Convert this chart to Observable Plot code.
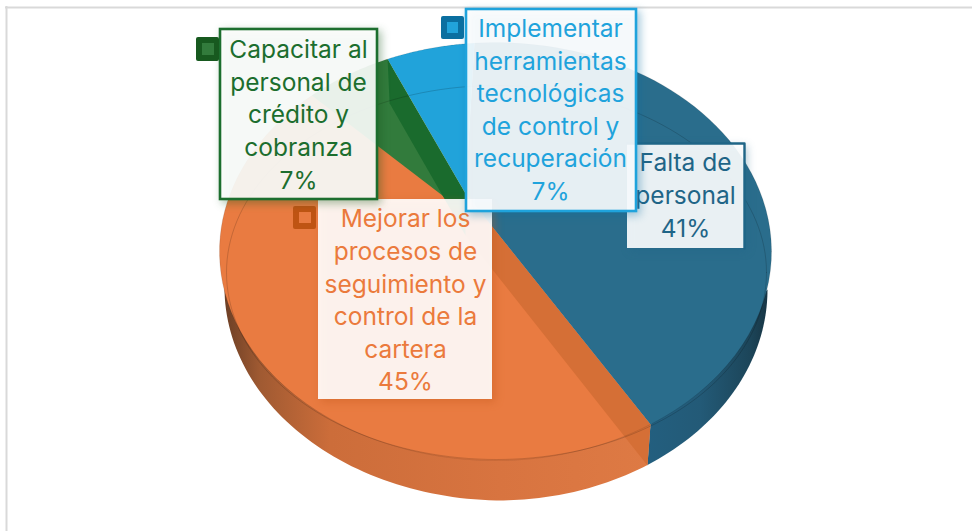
<!DOCTYPE html>
<html><head><meta charset="utf-8">
<style>html,body{margin:0;padding:0;background:#fff}svg{display:block}</style>
<script src="https://cdn.jsdelivr.net/npm/d3@7"></script>
<script src="https://cdn.jsdelivr.net/npm/@observablehq/plot@0.6"></script>
</head><body><div id="c"></div><script>
// Data
const labels = ["Mejorar los\nprocesos de\nseguimiento y\ncontrol de la\ncartera\n45%",
  "Capacitar al\npersonal de\ncrédito y\ncobranza\n7%",
  "Implementar\nherramientas\ntecnológicas\nde control y\nrecuperación\n7%",
  "Falta de\npersonal\n41%"];
const shares = [45, 7, 7, 41];
const faceColors = ["#E97B41", "#327B3C", "#21A3DA", "#2A6D8C"];
const textColors = ["#EB7A3C", "#1C6E2E", "#1FA3DC", "#1F6587"];
const keyColors  = ["#BF5413", "#17591F", "#0B6FA0", "#1F6587"];

// Layout of the perspective pie
const W = 972, H = 531, FS = 24.5, FONT = "Inter";
const rimE = {cx:495, cy:251, rx:276, ry:209};    // outer rim of the top
const innerE = {cx:496, cy:272, rx:270, ry:187};  // thin inner arc
const wallL = {cx:503, cy:287, rx:279, ry:213};   // lower silhouette, left
const wallR = {cx:497, cy:289, rx:270, ry:211};   // lower silhouette, right
const apex = [465, 193], apexLow = [465, 235], apexGreen = [472, 218], depth = 41;
const startAngle = 59.2;
const rad = Math.PI/180;
const ax = (apex[0]-rimE.cx)/rimE.rx, ay = (apex[1]-rimE.cy)/rimE.ry, a2 = ax*ax+ay*ay;
function rim(deg){ // circle angle -> perspective point on the rim
  const ux=Math.cos(deg*rad), uy=Math.sin(deg*rad), d=ax*ux+ay*uy, k=d/a2;
  const px=ax*k, py=ay*k, s=Math.sqrt(1-a2), den=1+d;
  return [rimE.cx+rimE.rx*(ax+px+s*(ux-px))/den, rimE.cy+rimE.ry*(ay+py+s*(uy-py))/den];
}
const ell=(e,t)=>[e.cx+e.rx*Math.cos(t*rad), e.cy+e.ry*Math.sin(t*rad)];
const steps=(n)=>d3.range(n+1).map(i=>i/n);
const total=d3.sum(shares);
let acc=startAngle;
const edges=shares.map(s=>{const b=acc; acc+=s/total*360; return [b,acc];});
const X=d=>d[0], Y=d=>d[1];
const poly=(pts,fill,opt={})=>Plot.line(pts.concat([pts[0]]),{x:X,y:Y,fill,stroke:"none",curve:"linear",...opt});
const wedge=(e,p=apex)=>[p,...steps(60).map(t=>rim(e[0]+(e[1]-e[0])*t))];

const R = rim(edges[0][0]);                // blue / orange rim point
const Rlow = [R[0]-3, R[1]+depth];
const tR = Math.acos((Rlow[0]-wallR.cx)/wallR.rx)/rad;
const tJoin = Math.acos((wallL.cx-wallR.cx)/wallR.rx)/rad;
const G = rim(edges[2][0]);                // green / light blue rim point
const wallOrange=[...steps(60).map(t=>ell(wallL,180-90*t)),
                  ...steps(30).map(t=>ell(wallR,tJoin+(tR-tJoin)*t)), R, apex];
const wallBlue=[...steps(40).map(t=>ell(wallR,tR-tR*t)), R];
const ring=e=>steps(180).map(t=>ell(e,360*t));

// Label boxes, drawn in this order
const boxes=[
 {i:3,x1:627,x2:744,y1:143,y2:248,fo:.9,tx:685,ty:193},
 {i:0,x1:318,x2:492,y1:199,y2:399,fo:.91,tx:405,ty:298},
 {i:1,x1:220,x2:377,y1:29,y2:199,stroke:true,fo:.9,tx:298,ty:112.5},
 {i:2,x1:466,x2:636,y1:9,y2:211,stroke:true,fo:.89,tx:550,ty:107.5}
];
const keys=[[293,316,206,229,299,311,212,223],[196,219,37,61,202,214,43,55],[441,464,16,39,447,458,22,33]];
const boxMarks=boxes.flatMap(b=>{
  const k=b.i<3?keys[b.i]:null;
  const m=[Plot.rect([b],{x1:"x1",x2:"x2",y1:"y1",y2:"y2",fill:"#fff",fillOpacity:b.fo,
      stroke:b.stroke?textColors[b.i]:"none",strokeWidth:2.6,
      imageFilter:`drop-shadow(3px 3px 4px ${keyColors[b.i]}66)`})];
  if(b.i===3) m.push(Plot.line([[b.x1,b.y1],[b.x2,b.y1],[b.x2,b.y2]],{x:X,y:Y,stroke:textColors[3],strokeWidth:2.4}));
  if(k) m.push(
    Plot.rect([k],{x1:d=>d[0],x2:d=>d[1],y1:d=>d[2],y2:d=>d[3],fill:keyColors[b.i],rx:2}),
    Plot.rect([k],{x1:d=>d[4],x2:d=>d[5],y1:d=>d[6],y2:d=>d[7],fill:faceColors[b.i]}));
  m.push(Plot.text([labels[b.i]],{x:()=>b.tx,y:()=>b.ty,text:d=>d,fill:textColors[b.i],
    fontSize:FS,lineHeight:32.6/FS,textAnchor:"middle",lineAnchor:"middle"}));
  return m;
});

const chart=Plot.plot({
  width:W,height:H,margin:0,
  x:{domain:[0,W],range:[0,W],axis:null},
  y:{domain:[0,H],range:[0,H],axis:null},
  style:{background:"#fff",fontFamily:FONT},
  marks:[
    Plot.ruleY([7],{stroke:"#D9D9D9",strokeWidth:2,x1:5,x2:W}),
    Plot.ruleX([6],{stroke:"#D9D9D9",strokeWidth:2,y1:6,y2:H}),
    poly(wallOrange,"url(#wallO)"),
    poly(wallBlue,"url(#wallB)"),
    poly(wedge(edges[0]),faceColors[0]),
    poly(wedge(edges[3]),faceColors[3]),
    poly(wedge(edges[2]),faceColors[2]),
    poly(wedge(edges[1],apexGreen),faceColors[1]),
    // cut faces seen through the slices
    poly([apex,R,Rlow,apexLow],"#D56F36"),
    poly([apex,G,[G[0]+2,G[1]+depth+3],apexLow],"#1A6B2D"),
    Plot.line(ring(innerE),{x:X,y:Y,stroke:"#000",strokeOpacity:.16,strokeWidth:1}),
    Plot.line(ring(rimE),{x:X,y:Y,stroke:"#000",strokeOpacity:.1,strokeWidth:1}),
    ...boxMarks
  ]
});
const svg=d3.select(chart);
const defs=svg.append("defs");
function grad(id,stops){
  const g=defs.append("linearGradient").attr("id",id).attr("gradientUnits","userSpaceOnUse")
    .attr("x1",stops[0][0]).attr("x2",stops[stops.length-1][0]).attr("y1",0).attr("y2",0);
  const span=stops[stops.length-1][0]-stops[0][0];
  stops.forEach(s=>g.append("stop").attr("offset",(s[0]-stops[0][0])/span).attr("stop-color",s[1]));
}
grad("wallO",[[225,"#6E4026"],[260,"#A05A32"],[330,"#CC6D3A"],[500,"#D87440"],[650,"#DE7A44"]]);
grad("wallB",[[646,"#235F7F"],[700,"#235A77"],[750,"#1C4559"],[772,"#16313F"]]);
document.getElementById("c").append(chart);
</script></body></html>
